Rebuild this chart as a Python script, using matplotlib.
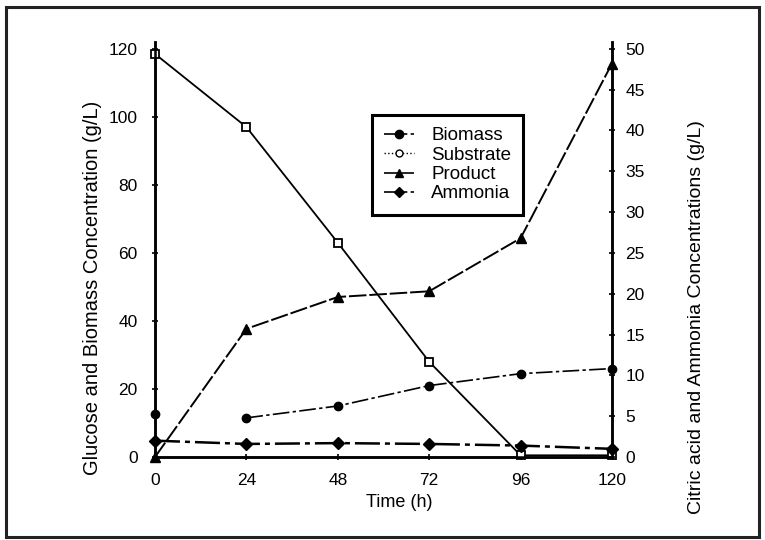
import matplotlib
matplotlib.use("Agg")
import matplotlib.pyplot as plt
from matplotlib.lines import Line2D
from matplotlib.patches import Rectangle

plt.rcParams['font.family'] = ['Liberation Sans', 'DejaVu Sans']

# Fermentation time course
time_h = [0, 24, 48, 72, 96, 120]
biomass_gl = [12.5, 11.5, 15.0, 21.0, 24.5, 26.0]      # left axis
substrate_gl = [118.5, 97.0, 63.0, 28.0, 0.5, 0.5]     # left axis (glucose)
product_gl = [0.0, 15.7, 19.6, 20.3, 26.8, 48.2]       # right axis (citric acid)
ammonia_gl = [2.0, 1.6, 1.7, 1.6, 1.4, 1.0]            # right axis

x_ticks = [0, 24, 48, 72, 96, 120]
left_ticks = [0, 20, 40, 60, 80, 100, 120]
right_ticks = [0, 5, 10, 15, 20, 25, 30, 35, 40, 45, 50]

fig = plt.figure(figsize=(7.65, 5.4), dpi=100)
ax = fig.add_axes([0.2026, 0.1537, 0.5974, 0.7685])
ax2 = ax.twinx()

LEFT_TOP = 122.0
ax.set_ylim(0, LEFT_TOP)
ax2.set_ylim(0, LEFT_TOP * 50.0 / 120.0)
ax.set_xlim(0, 120)

dash = (0, (9, 1.5))
dashdot = (0, (10, 2, 2, 2))

# Substrate: open squares
ax.plot(time_h, substrate_gl, color='black', lw=1.3, ls='-',
        marker='s', ms=5.5, mfc='white', mec='black', mew=1.3,
        clip_on=False, zorder=4)
# Biomass: filled circles, line starts at 24 h
ax.plot(time_h[1:], biomass_gl[1:], color='black', lw=1.2, ls=dashdot,
        clip_on=False, zorder=4)
ax.plot(time_h, biomass_gl, ls='none', marker='o', ms=6, color='black',
        clip_on=False, zorder=5)
# Citric acid: filled triangles
ax2.plot(time_h, product_gl, color='black', lw=1.4, ls=dash,
         marker='^', ms=6.5, clip_on=False, zorder=4)
# Ammonia: filled diamonds
ax2.plot(time_h, ammonia_gl, color='black', lw=1.8, ls=dashdot,
         marker='D', ms=6, clip_on=False, zorder=4)

for a in (ax, ax2):
    a.spines['top'].set_visible(False)
    for s in ('left', 'right', 'bottom'):
        a.spines[s].set_linewidth(1.8)

ax.set_xticks(x_ticks)
ax.set_xticklabels([str(v) for v in x_ticks])
ax.set_yticks(left_ticks)
ax2.set_yticks(right_ticks)
ax.tick_params(axis='x', direction='inout', length=5, width=1.2, pad=9,
               labelsize=12.5)
ax.tick_params(axis='y', direction='inout', length=5, width=1.2, pad=10,
               labelsize=12.5)
ax2.tick_params(axis='y', direction='inout', length=5, width=1.2, pad=7,
                labelsize=12.5)

ax.set_xlabel('Time (h)', fontsize=13)
ax.xaxis.set_label_coords(0.535, -0.09)
ax.set_ylabel('Glucose and Biomass Concentration (g/L)', fontsize=14.5)
ax.yaxis.set_label_coords(-0.116, 0.407)
ax2.set_ylabel('Citric acid and Ammonia Concentrations (g/L)', fontsize=14)
ax2.yaxis.set_label_coords(1.166, 0.337)

handles = [
    Line2D([], [], color='black', lw=1.2, ls=dashdot, marker='o', ms=6),
    Line2D([], [], color='black', lw=1.0, ls=':', marker='o', ms=5,
           mfc='white'),
    Line2D([], [], color='black', lw=1.2, ls=dash, marker='^', ms=6),
    Line2D([], [], color='black', lw=1.2, ls=dashdot, marker='D', ms=5.5),
]
labels = ['Biomass', 'Substrate', 'Product', 'Ammonia']
leg = ax.legend(handles, labels, loc='upper left',
                bbox_to_anchor=(0.475, 0.824), borderaxespad=0,
                fontsize=13.5, frameon=True,
                fancybox=False, framealpha=1, edgecolor='black',
                handlelength=1.6, handletextpad=0.9, labelspacing=0.12,
                borderpad=0.65)
leg.get_frame().set_linewidth(2.2)
leg.set_zorder(10)

# Outer frame around the whole figure
fig.patches.append(Rectangle((6 / 765, 3 / 540), 753 / 765, 530 / 540,
                             transform=fig.transFigure, fill=False,
                             edgecolor='#222222', lw=2.2))

fig.savefig('out.png', dpi=100)
